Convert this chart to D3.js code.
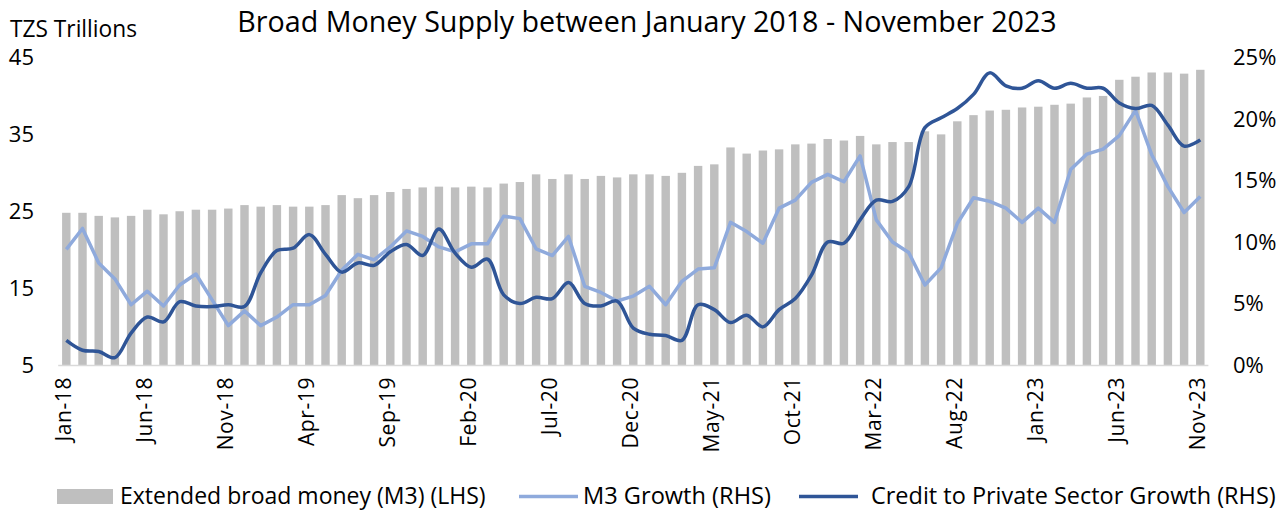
<!DOCTYPE html>
<html>
<head>
<meta charset="utf-8">
<script src="https://cdn.jsdelivr.net/npm/d3@7"></script>
<style>
  body { margin: 0; background: #fff; }
  svg { display: block; font-family: "Open Sans", "Noto Sans", sans-serif; }
</style>
</head>
<body>
<svg id="chart" width="1288" height="511"></svg>
<script>
const months = ['Jan', 'Feb', 'Mar', 'Apr', 'May', 'Jun', 'Jul', 'Aug', 'Sep', 'Oct', 'Nov', 'Dec'];
const categories = d3.range(71).map(i => `${months[i % 12]}-${18 + Math.floor(i / 12)}`);

// Extended broad money (M3), TZS trillions
const m3 = [
  24.8, 24.8, 24.4, 24.2, 24.4, 25.2, 24.6, 25.0, 25.2, 25.2, 25.35, 25.8,
  25.6, 25.8, 25.6, 25.6, 25.8, 27.1, 26.7, 27.1, 27.5, 27.9, 28.1, 28.2,
  28.1, 28.2, 28.1, 28.6, 28.8, 29.8, 29.2, 29.8, 29.2, 29.6, 29.4, 29.8,
  29.8, 29.6, 30.0, 30.9, 31.1, 33.3, 32.5, 32.9, 33.05, 33.7, 33.8, 34.4,
  34.2, 34.8, 33.7, 34.0, 34.0, 35.4, 35.0, 36.7, 37.5, 38.1, 38.2, 38.5,
  38.6, 38.85, 39.0, 39.8, 40.0, 42.1, 42.5, 43.05, 43.05, 42.9, 43.4
];

// M3 growth, %
const m3Growth = [
  9.4, 11.1, 8.3, 7.0, 4.9, 6.0, 4.8, 6.5, 7.4, 5.3, 3.2, 4.4,
  3.2, 3.9, 4.9, 4.9, 5.65, 7.7, 9.0, 8.55, 9.6, 10.9, 10.45, 9.6,
  9.2, 9.85, 9.85, 12.1, 11.9, 9.45, 8.9, 10.45, 6.4, 5.9, 5.2, 5.6,
  6.4, 4.9, 6.8, 7.8, 7.9, 11.6, 10.85, 9.9, 12.75, 13.4, 14.85, 15.5,
  14.9, 17.0, 11.8, 10.0, 9.15, 6.5, 7.9, 11.5, 13.6, 13.3, 12.75, 11.6,
  12.75, 11.6, 15.9, 17.15, 17.55, 18.65, 20.7, 17.1, 14.5, 12.4, 13.7
];

// Credit to private sector growth, %
const creditGrowth = [
  2.0, 1.2, 1.1, 0.6, 2.6, 3.9, 3.5, 5.15, 4.8, 4.75, 4.9, 4.75,
  7.5, 9.3, 9.5, 10.6, 9.0, 7.55, 8.3, 8.1, 9.2, 9.8, 8.9, 11.05,
  9.1, 7.95, 8.6, 5.7, 5.0, 5.5, 5.4, 6.7, 5.0, 4.8, 5.2, 3.0,
  2.5, 2.4, 2.0, 4.9, 4.5, 3.45, 4.05, 3.1, 4.5, 5.4, 7.3, 10.0,
  9.9, 11.8, 13.4, 13.3, 14.5, 19.3, 20.1, 20.85, 22.0, 23.75, 22.7, 22.5,
  23.1, 22.5, 22.9, 22.5, 22.5, 21.3, 20.85, 21.1, 19.5, 17.8, 18.3
];

const leftTicks = [5, 15, 25, 35, 45];
const rightTicks = [0, 5, 10, 15, 20, 25];

const svg = d3.select('#chart');
const plotTop = 57.5, plotBottom = 365;

const x = d3.scaleBand()
  .domain(categories)
  .range([58.2, 1208.4])
  .paddingInner(0.48)
  .paddingOuter(0.24);

const yL = d3.scaleLinear().domain([5, 45]).range([plotBottom, plotTop]);
const yR = d3.scaleLinear().domain([0, 25]).range([plotBottom, plotTop]);
const cx = d => x(d) + x.bandwidth() / 2;

// fit a text element to a target width
function fit(sel, w) {
  const len = sel.node().getComputedTextLength();
  sel.attr('font-size', parseFloat(sel.attr('font-size')) * w / len);
}

// bars
svg.append('g').selectAll('rect')
  .data(m3)
  .enter().append('rect')
  .attr('x', (d, i) => x(categories[i]))
  .attr('width', x.bandwidth())
  .attr('y', d => yL(d))
  .attr('height', d => yL(5) - yL(d))
  .attr('fill', '#bfbfbf');

// bottom axis line
svg.append('line')
  .attr('x1', x.range()[0]).attr('x2', x.range()[1])
  .attr('y1', plotBottom + 0.5).attr('y2', plotBottom + 0.5)
  .attr('stroke', '#d9d9d9').attr('stroke-width', 1.5);

// lines
const m3Line = d3.line()
  .x((d, i) => cx(categories[i]))
  .y(d => yR(d));

const creditLine = d3.line()
  .x((d, i) => cx(categories[i]))
  .y(d => yR(d))
  .curve(d3.curveCatmullRom.alpha(0.5));

svg.append('path')
  .attr('d', m3Line(m3Growth))
  .attr('fill', 'none')
  .attr('stroke', '#8faadc')
  .attr('stroke-width', 3.5)
  .attr('stroke-linejoin', 'round');

svg.append('path')
  .attr('d', creditLine(creditGrowth))
  .attr('fill', 'none')
  .attr('stroke', '#2f5597')
  .attr('stroke-width', 3.5)
  .attr('stroke-linejoin', 'round');

// left axis
const leftAxis = svg.append('g')
  .attr('transform', 'translate(34,0)')
  .call(d3.axisLeft(yL).tickValues(leftTicks).tickSize(0).tickPadding(0));
leftAxis.select('.domain').remove();
leftAxis.selectAll('text')
  .attr('font-size', 22).attr('font-family', '"Open Sans", sans-serif').attr('fill', '#000');

// right axis
const rightAxis = svg.append('g')
  .attr('transform', 'translate(1233,0)')
  .call(d3.axisRight(yR).tickValues(rightTicks).tickSize(0).tickPadding(0)
    .tickFormat(d => d + '%'));
rightAxis.select('.domain').remove();
rightAxis.selectAll('text')
  .attr('font-size', 22).attr('font-family', '"Open Sans", sans-serif').attr('fill', '#000');

// x axis labels, every 5 months
const bottomAxis = svg.append('g')
  .attr('transform', `translate(0,${plotBottom})`)
  .call(d3.axisBottom(x)
    .tickValues(categories.filter((d, i) => i % 5 === 0))
    .tickSize(0).tickPadding(0));
bottomAxis.select('.domain').remove();
bottomAxis.selectAll('text')
  .attr('font-size', 21)
  .attr('font-family', '"Open Sans", sans-serif')
  .attr('fill', '#000')
  .attr('letter-spacing', 0.6)
  .attr('text-anchor', 'end')
  .attr('transform', 'translate(5,12) rotate(-90)')
  .attr('y', 0).attr('x', 0).attr('dy', '0');

// title
const title = svg.append('text')
  .attr('x', 647).attr('y', 32)
  .attr('text-anchor', 'middle')
  .attr('font-size', 26)
  .text('Broad Money Supply between January 2018 - November 2023');
fit(title, 820);

const unit = svg.append('text')
  .attr('x', 10).attr('y', 37)
  .attr('font-size', 18)
  .text('TZS Trillions');
fit(unit, 127);

// legend
const legend = svg.append('g');
legend.append('rect')
  .attr('x', 57).attr('y', 489).attr('width', 56).attr('height', 15)
  .attr('fill', '#bfbfbf');
const l1 = legend.append('text').attr('x', 120).attr('y', 504).attr('font-size', 20)
  .text('Extended broad money (M3) (LHS)');
fit(l1, 366);

legend.append('line')
  .attr('x1', 519).attr('x2', 578).attr('y1', 496.5).attr('y2', 496.5)
  .attr('stroke', '#8faadc').attr('stroke-width', 3.5);
const l2 = legend.append('text').attr('x', 583).attr('y', 504).attr('font-size', 20)
  .text('M3 Growth (RHS)');
fit(l2, 188);

legend.append('line')
  .attr('x1', 799).attr('x2', 858).attr('y1', 496.5).attr('y2', 496.5)
  .attr('stroke', '#2f5597').attr('stroke-width', 3.5);
const l3 = legend.append('text').attr('x', 871).attr('y', 504).attr('font-size', 20)
  .text('Credit to Private Sector Growth (RHS)');
fit(l3, 405);
</script>
</body>
</html>
